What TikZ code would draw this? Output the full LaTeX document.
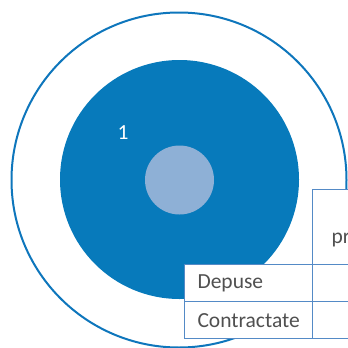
\documentclass[tikz,border=0pt]{standalone}
\usepackage{fontspec}
\setmainfont{Carlito}
\usetikzlibrary{positioning}
\definecolor{ringblue}{RGB}{14,118,188}
\definecolor{discblue}{RGB}{7,122,187}
\definecolor{coreblue}{RGB}{142,176,214}
\definecolor{gridblue}{RGB}{84,138,198}
\definecolor{textgray}{RGB}{80,80,80}

\begin{document}
\begin{tikzpicture}[
    x=1pt, y=-1pt,
    every node/.style={font=\fontsize{21.5}{25}\selectfont},
    cell/.style={draw=gridblue, line width=1.3pt, fill=white, anchor=north west,
        inner sep=0pt, text=textgray, align=left},
]
\useasboundingbox (0,0) rectangle (348,348);
\clip (0,0) rectangle (348,348);
% rings
\draw[ringblue, line width=2pt] (179,180) circle (167.5);
\fill[discblue] (179.5,179.5) circle (119.5);
\fill[coreblue] (179.5,180) circle (34.5);
\node[text=white] (num) at (123,133) {1};
% table
\node[cell, minimum width=110pt, minimum height=75pt] (head) at (312,189) {};
\node[cell, minimum width=128pt, minimum height=37pt] (rowa) at (184,264) {};
\node[cell, minimum width=110pt, minimum height=37pt] (rowav) at (312,264) {};
\node[cell, minimum width=128pt, minimum height=37pt] (rowb) at (184,301) {};
\node[cell, minimum width=110pt, minimum height=37pt] (rowbv) at (312,301) {};
\node[text=textgray, anchor=base west] (headtxt) at (328,243) {pr};
\node[text=textgray, anchor=west] (rowatxt) at ([xshift=10pt]rowa.west) {Depuse};
\node[text=textgray, anchor=west] (rowbtxt) at ([xshift=10pt]rowb.west) {Contractate};
\end{tikzpicture}
\end{document}
